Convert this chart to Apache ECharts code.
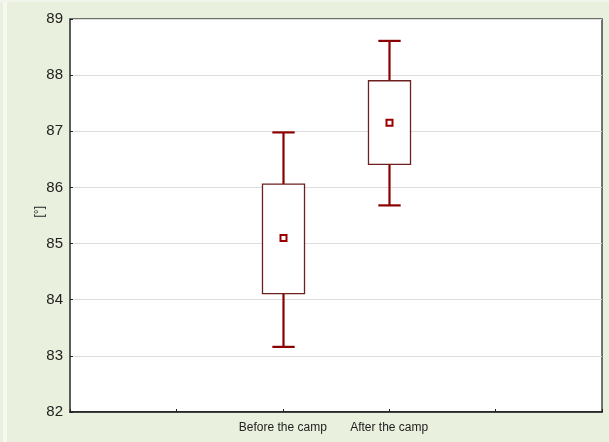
<!DOCTYPE html>
<html>
<head>
<meta charset="utf-8">
<script src="https://cdn.jsdelivr.net/npm/echarts@6/dist/echarts.min.js"></script>
<style>
  html, body { margin: 0; padding: 0; background: #e9f0dd; }
  #chart { width: 609px; height: 442px; }
</style>
</head>
<body>
<div id="chart"></div>
<script>
// Axis slots: the two groups sit on the middle ticks of a 6-tick axis
const categories = ['', '', 'Before the camp', 'After the camp', '', ''];
const groupIndex = [2, 3];
// Mean, mean ± SE (box) and mean ± SD (whiskers)
const means   = [85.10, 87.15];
const boxLow  = [84.11, 86.41];
const boxHigh = [86.06, 87.90];
const whiskLow  = [83.16, 85.68];
const whiskHigh = [86.98, 88.61];
const yTicks = { min: 82, max: 89, step: 1 };

const rows = groupIndex.map((g, i) => [g, means[i], boxLow[i], boxHigh[i], whiskLow[i], whiskHigh[i]]);

const chart = echarts.init(document.getElementById('chart'), null, { renderer: 'canvas' });

function renderItem(params, api) {
  const x = api.value(0);
  const pMean = api.coord([x, api.value(1)]);
  const pBoxLo = api.coord([x, api.value(2)]);
  const pBoxHi = api.coord([x, api.value(3)]);
  const pWLo = api.coord([x, api.value(4)]);
  const pWHi = api.coord([x, api.value(5)]);
  const slot = api.size([1, 0])[0];
  const boxW = slot * 0.395;
  const capW = slot * 0.21;
  const cx = Math.round(pMean[0]) + 0.5;
  const whiskerStyle = { stroke: '#8b0000', lineWidth: 2.2 };
  return {
    type: 'group',
    children: [
      { type: 'line', shape: { x1: cx, y1: pWHi[1], x2: cx, y2: pBoxHi[1] }, style: whiskerStyle },
      { type: 'line', shape: { x1: cx, y1: pBoxLo[1], x2: cx, y2: pWLo[1] }, style: whiskerStyle },
      { type: 'line', shape: { x1: cx - capW / 2, y1: pWHi[1], x2: cx + capW / 2, y2: pWHi[1] }, style: whiskerStyle },
      { type: 'line', shape: { x1: cx - capW / 2, y1: pWLo[1], x2: cx + capW / 2, y2: pWLo[1] }, style: whiskerStyle },
      { type: 'rect', shape: { x: cx - boxW / 2, y: pBoxHi[1], width: boxW, height: pBoxLo[1] - pBoxHi[1] },
        style: { fill: '#ffffff', stroke: '#6e1f1f', lineWidth: 1.3 } },
      { type: 'rect', shape: { x: cx - 3, y: pMean[1] - 3, width: 6, height: 6 },
        style: { fill: '#ffffff', stroke: '#9b0000', lineWidth: 2 } }
    ]
  };
}

chart.setOption({
  backgroundColor: '#e9f0dd',
  animation: false,
  graphic: [
    { type: 'rect', left: 3, top: 0, shape: { width: 4, height: 442 }, style: { fill: '#f6f9f1' }, z: 0 },
    { type: 'rect', left: 0, top: 0, shape: { width: 609, height: 2 }, style: { fill: '#f1f5ea' }, z: 0 },
    { type: 'text', left: 34, top: 206, rotation: Math.PI / 2,
      style: { text: '[°]', font: '12px Arial, "Liberation Sans", sans-serif', fill: '#222222' } }
  ],
  grid: { left: 70, right: 7, top: 19, bottom: 30, show: true, backgroundColor: '#ffffff',
          borderColor: '#444444', borderWidth: 1.5 },
  xAxis: {
    type: 'category',
    data: categories,
    boundaryGap: false,
    axisLine: { lineStyle: { color: '#111111', width: 1.5 } },
    axisTick: { inside: true, length: 3, interval: 0, lineStyle: { color: '#222222' } },
    axisLabel: { interval: 0, hideOverlap: false, color: '#222222', fontSize: 12,
                 fontFamily: 'Arial, "Liberation Sans", sans-serif', margin: 10 },
    splitLine: { show: false }
  },
  yAxis: {
    type: 'value',
    min: yTicks.min, max: yTicks.max, interval: yTicks.step,
    axisLine: { show: true, lineStyle: { color: '#555555', width: 1.5 } },
    axisTick: { show: true, inside: true, length: 3, lineStyle: { color: '#222222' } },
    axisLabel: { color: '#222222', fontSize: 15, fontFamily: 'Arial, "Liberation Sans", sans-serif', margin: 7 },
    splitLine: { lineStyle: { color: '#dddddd', width: 1 } }
  },
  series: [{
    type: 'custom',
    renderItem: renderItem,
    encode: { x: 0, y: [1, 2, 3, 4, 5] },
    data: rows,
    z: 5
  }]
});
</script>
</body>
</html>
